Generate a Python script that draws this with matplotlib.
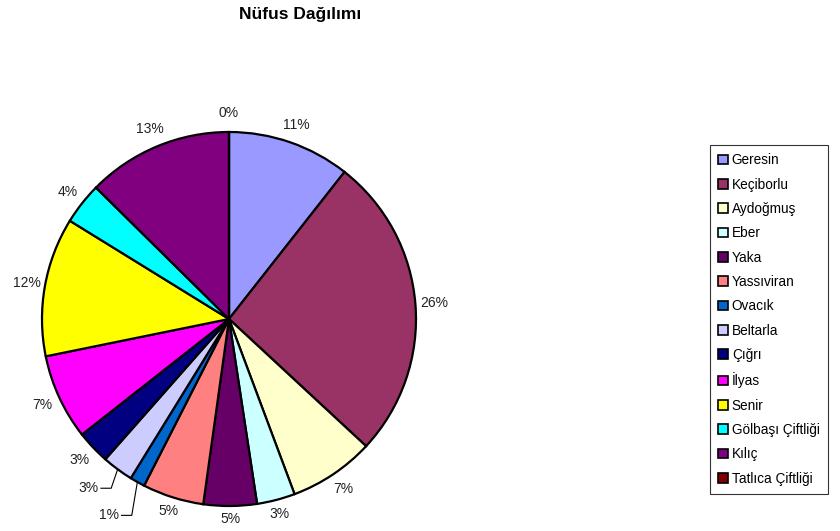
import matplotlib
matplotlib.use("Agg")
import matplotlib.pyplot as plt
import numpy as np

plt.rcParams['font.family'] = ['Liberation Sans', 'DejaVu Sans']

categories = ["Geresin", "Keçiborlu", "Aydoğmuş", "Eber", "Yaka", "Yassıviran",
              "Ovacık", "Beltarla", "Çığrı", "İlyas", "Senir", "Gölbaşı Çiftliği",
              "Kılıç", "Tatlıca Çiftliği"]
values = [10.6, 26.3, 7.4, 3.3, 4.6, 5.3, 1.3, 2.7, 2.9, 7.4, 12.0, 3.6, 12.6, 0.0]
colors = ["#9999FF", "#993366", "#FFFFCC", "#CCFFFF", "#660066", "#FF8080",
          "#0066CC", "#CCCCFF", "#000080", "#FF00FF", "#FFFF00", "#00FFFF",
          "#800080", "#800000"]
title = "Nüfus Dağılımı"

fig = plt.figure(figsize=(8.4, 5.31), dpi=100)
ax = fig.add_axes([42/840, 25/531, 374/840, 374/531])

wedges, texts, autotexts = ax.pie(
    values, colors=colors, startangle=90, counterclock=False,
    autopct='%.0f%%', pctdistance=1.10,
    wedgeprops=dict(edgecolor='black', linewidth=1.6),
    textprops=dict(fontsize=10, color='#222222'))
ax.set_xlim(-1, 1)
ax.set_ylim(-1, 1)
ax.set_aspect('equal')

# labels near the bottom sit a little closer to the pie
for w, at in zip(wedges, autotexts):
    mid = np.deg2rad((w.theta1 + w.theta2) / 2)
    s = np.sin(mid)
    if s < -0.8:
        d = 1.10 - 0.03 * (-s - 0.8) / 0.2
        at.set_position((d * np.cos(mid), d * s))

# leader-line labels for the narrow slices
leader = {7: (-0.70, -0.905), 6: (-0.59, -1.05)}
for idx, (tx, ty) in leader.items():
    w = wedges[idx]
    mid = np.deg2rad((w.theta1 + w.theta2) / 2)
    ex, ey = np.cos(mid), np.sin(mid)
    at = autotexts[idx]
    at.set_position((tx, ty))
    at.set_ha('right')
    at.set_va('center')
    ax.plot([tx + 0.015, tx + 0.07, ex], [ty, ty, ey], color='black',
            linewidth=0.8, clip_on=False)

leg = fig.legend(wedges, categories, loc='upper left',
                 bbox_to_anchor=(710/840, 1 - 145/531), fontsize=9.8,
                 frameon=True, fancybox=False, borderpad=0.6,
                 handlelength=0.7, handleheight=0.7, handletextpad=0.3,
                 labelspacing=0.76, borderaxespad=0)
leg.get_frame().set_edgecolor('black')
leg.get_frame().set_linewidth(0.8)
for h in leg.legend_handles:
    h.set_linewidth(1.2)

fig.text(300/840, 1 - 15/531, title, ha='center', va='center',
         fontsize=12.5, fontweight='bold')

fig.savefig("out.png", dpi=100)
